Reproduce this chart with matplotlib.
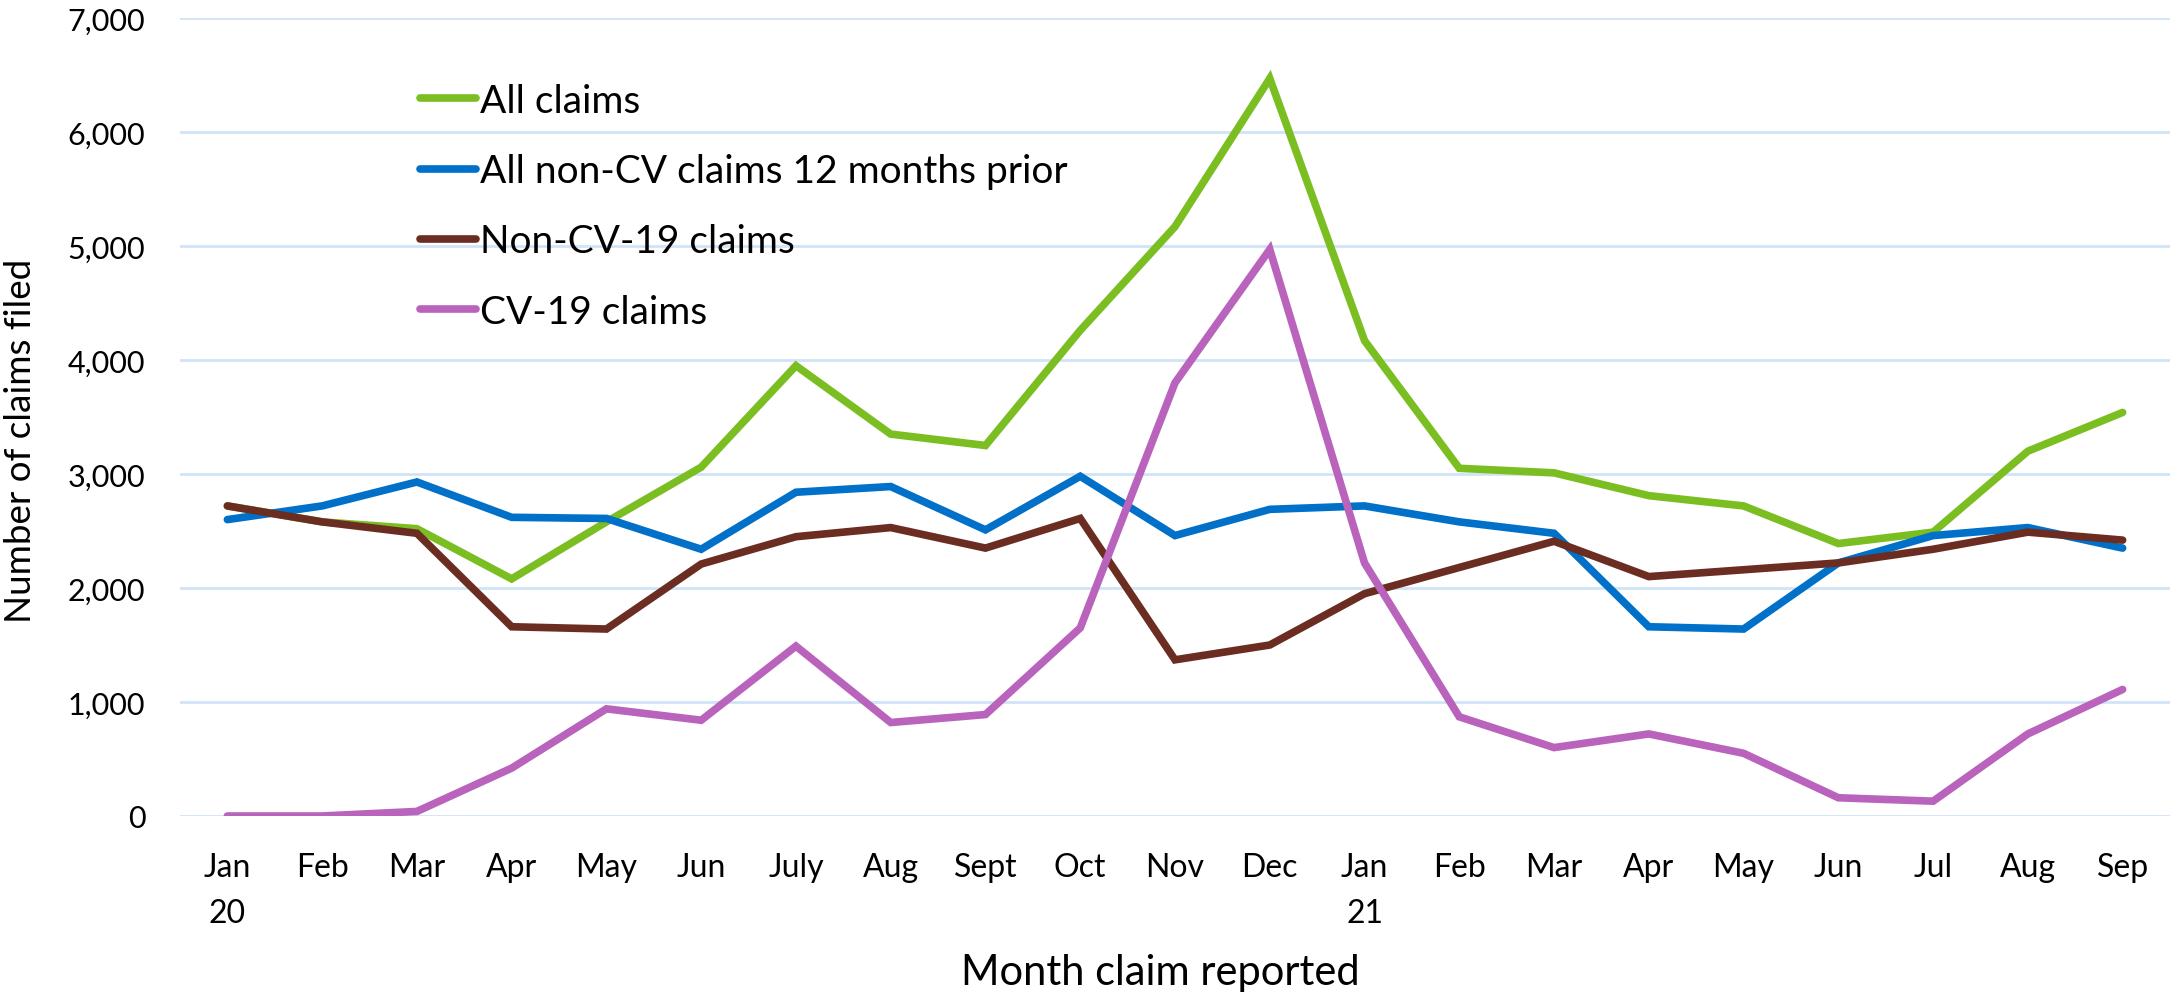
import matplotlib.pyplot as plt
import numpy as np

plt.rcParams['font.family'] = ['Lato', 'DejaVu Sans']

months = ['Jan\n20', 'Feb', 'Mar', 'Apr', 'May', 'Jun', 'July', 'Aug', 'Sept', 'Oct',
          'Nov', 'Dec', 'Jan\n21', 'Feb', 'Mar', 'Apr', 'May', 'Jun', 'Jul', 'Aug', 'Sep']

all_claims = [2720, 2580, 2520, 2080, 2580, 3060, 3950, 3350, 3250, 4260,
              5170, 6470, 4170, 3050, 3010, 2810, 2720, 2390, 2490, 3200, 3540]
prior_noncv = [2600, 2720, 2930, 2620, 2610, 2340, 2840, 2890, 2510, 2980,
               2460, 2690, 2720, 2580, 2480, 1660, 1640, 2220, 2460, 2530, 2350]
noncv = [2720, 2580, 2480, 1660, 1640, 2210, 2450, 2530, 2350, 2610,
         1370, 1500, 1950, 2180, 2410, 2100, 2160, 2220, 2340, 2490, 2420]
cv = [0, 0, 40, 420, 940, 840, 1490, 820, 890, 1650,
      3800, 4970, 2220, 870, 600, 720, 550, 160, 130, 720, 1110]

series = [
    ('All claims', all_claims, '#7bbe22'),
    ('All non-CV claims 12 months prior', prior_noncv, '#0070c8'),
    ('Non-CV-19 claims', noncv, '#6b2d22'),
    ('CV-19 claims', cv, '#b963bc'),
]

fig = plt.figure(figsize=(21.75, 9.95), dpi=100)
ax = fig.add_axes([180/2175, 1-817/995, 1990/2175, 798/995])

x = np.arange(len(months))
for i, (name, vals, col) in enumerate(series):
    ax.plot(x, vals, color=col, lw=5.5, label=name, zorder=3+i,
            solid_joinstyle='miter', solid_capstyle='round')

ax.set_xlim(-0.5, len(months)-0.5)
ax.set_ylim(0, 7000)
ax.set_yticks(range(0, 7001, 1000))
ax.set_yticklabels([f'{v:,}' for v in range(0, 7001, 1000)])
ax.set_xticks(x)
ax.set_xticklabels(months, linespacing=1.67)
ax.tick_params(axis='both', length=0)
ax.tick_params(axis='x', pad=26, labelsize=23)
ax.tick_params(axis='y', pad=25, labelsize=22)
ax.grid(axis='y', color='#cfe4f7', lw=2)
ax.set_axisbelow(True)
for s in ax.spines.values():
    s.set_visible(False)

ax.set_ylabel('Number of claims filed', fontsize=26.5, va='center')
ax.yaxis.set_label_coords(-0.0804, 0.471)
ax.set_xlabel('Month claim reported', fontsize=30, va='baseline')
ax.xaxis.set_label_coords(0.4925, -0.2105)

ax.legend(loc='upper left', bbox_to_anchor=(0.1206, 0.9185), frameon=False,
          fontsize=28, handlelength=1.44, handletextpad=0.1, labelspacing=0.88,
          borderpad=0, borderaxespad=0)

plt.savefig('out.png', dpi=100)
